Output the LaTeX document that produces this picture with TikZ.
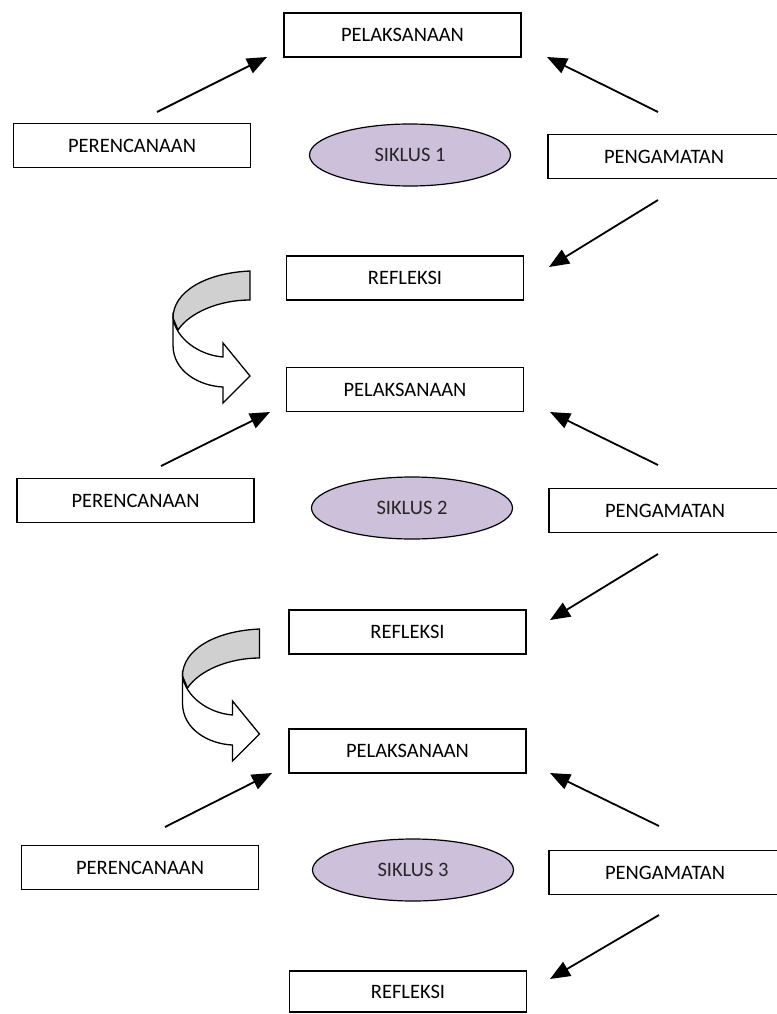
\documentclass[tikz,border=0pt]{standalone}
\usepackage{fontspec}
\setmainfont{Carlito}
\usetikzlibrary{shapes.geometric,arrows.meta}
\definecolor{ovalfill}{RGB}{204,192,218}
\definecolor{bandgray}{RGB}{208,208,208}
\tikzset{
  phasebox/.style={draw=black,line width=1.4pt,minimum width=237pt,minimum height=44pt,
    inner sep=0pt,font=\fontsize{20.5}{24}\selectfont},
  cycleoval/.style={ellipse,draw=black,line width=1.2pt,fill=ovalfill,minimum width=201pt,
    minimum height=62pt,inner sep=0pt,text=black!85,font=\fontsize{20.5}{24}\selectfont},
  flowarrow/.style={line width=1.8pt,-{Triangle[length=20pt,width=16pt]}},
  turnarrow/.pic={
    \draw[line width=1.3pt,fill=bandgray] (0,0) .. controls (-45,2) and (-77,21) .. (-77,47)
      -- (-72,59) .. controls (-60,41) and (-30,29) .. (0,29) -- cycle;
    \draw[line width=1.3pt,fill=white] (-77,47) -- (-77,74) .. controls (-77,101) and (-50,115) .. (-27,116)
      -- (-27,132) -- (0,105) -- (-27,72) -- (-27,86) .. controls (-52,84) and (-74,67) .. (-77,47) -- cycle;
  }
}
\begin{document}
\begin{tikzpicture}[x=1pt,y=-1pt]
\useasboundingbox (0,0) rectangle (776,1014);
% siklus 1
\node[phasebox] (pel1) at (402.5,35) {PELAKSANAAN};
\node[phasebox] (per1) at (132,145.5) {PERENCANAAN};
\node[cycleoval,text depth=-4pt] (sik1) at (410,155) {SIKLUS 1};
\node[phasebox,minimum width=232pt] (pen1) at (664,156.5) {PENGAMATAN};
\node[phasebox] (ref1) at (405,278) {REFLEKSI};
\coordinate (a1) at (157,112);
\coordinate (b1) at (267,57);
\coordinate (c1) at (658,112);
\coordinate (d1) at (547,57);
\coordinate (e1) at (658,200);
\coordinate (f1) at (549,267);
\draw[flowarrow] (a1) -- (b1);
\draw[flowarrow] (c1) -- (d1);
\draw[flowarrow] (e1) -- (f1);
\pic at (250,271) {turnarrow};
% siklus 2
\node[phasebox] (pel2) at (405,389.5) {PELAKSANAAN};
\node[phasebox] (per2) at (135.5,500.5) {PERENCANAAN};
\node[cycleoval] (sik2) at (412,508) {SIKLUS 2};
\node[phasebox,minimum width=232pt] (pen2) at (665,510.5) {PENGAMATAN};
\node[phasebox] (ref2) at (407.5,632) {REFLEKSI};
\coordinate (a2) at (161,466);
\coordinate (b2) at (270,412);
\coordinate (c2) at (658,465);
\coordinate (d2) at (550,412);
\coordinate (e2) at (658,554);
\coordinate (f2) at (550,620);
\draw[flowarrow] (a2) -- (b2);
\draw[flowarrow] (c2) -- (d2);
\draw[flowarrow] (e2) -- (f2);
\pic at (259.5,629) {turnarrow};
% siklus 3
\node[phasebox] (pel3) at (407.5,751) {PELAKSANAAN};
\node[phasebox] (per3) at (140,867.5) {PERENCANAAN};
\node[cycleoval] (sik3) at (413,870) {SIKLUS 3};
\node[phasebox,minimum width=232pt] (pen3) at (665,872.5) {PENGAMATAN};
\node[phasebox,minimum height=41pt] (ref3) at (408,991.5) {REFLEKSI};
\coordinate (a3) at (165,827);
\coordinate (b3) at (272,773);
\coordinate (c3) at (659,826);
\coordinate (d3) at (550,773);
\coordinate (e3) at (659,915);
\coordinate (f3) at (550,979);
\draw[flowarrow] (a3) -- (b3);
\draw[flowarrow] (c3) -- (d3);
\draw[flowarrow] (e3) -- (f3);
\end{tikzpicture}
\end{document}
